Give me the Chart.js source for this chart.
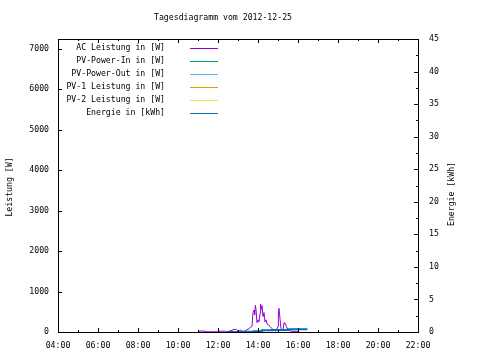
<!DOCTYPE html>
<html>
<head>
<meta charset="utf-8">
<script src="https://cdn.jsdelivr.net/npm/chart.js@4/dist/chart.umd.min.js"></script>
<style>
  body { margin: 0; background: #fff; }
  canvas { display: block; }
</style>
</head>
<body>
<canvas id="chart" width="480" height="360"></canvas>
<script>
// Chart data (time in hours of the day)
const titleText = 'Tagesdiagramm vom 2012-12-25';
const seriesLabels = ['AC Leistung in [W]', 'PV-Power-In in [W]', 'PV-Power-Out in [W]',
    'PV-1 Leistung in [W]', 'PV-2 Leistung in [W]', 'Energie in [kWh]'];
const seriesColors = ['#9400d3', '#009e73', '#56b4e9', '#e69f00', '#f0e442', '#0072b2'];

const acTimes = [11.00, 11.10, 11.20, 11.35, 11.45, 12.00, 12.10, 12.35, 12.45, 12.70, 12.80, 12.93,
    13.05, 13.13, 13.22, 13.35, 13.45, 13.55, 13.62, 13.70, 13.75, 13.80, 13.83, 13.87, 13.90, 13.95,
    14.00, 14.05, 14.10, 14.13, 14.17, 14.20, 14.25, 14.30, 14.35, 14.40, 14.45, 14.50, 14.60, 14.70,
    14.80, 14.90, 15.00, 15.02, 15.05, 15.10, 15.15, 15.25, 15.30, 15.35, 15.42, 15.48, 15.55, 15.70,
    15.90, 16.00, 16.02];
const acPower = [0, 20, 25, 20, 5, 5, 20, 20, 5, 40, 65, 60,
    15, 55, 15, 20, 60, 80, 120, 140, 480, 540, 420, 660, 560, 230,
    300, 250, 450, 690, 560, 650, 380, 480, 250, 300, 200, 180, 140, 80,
    40, 25, 140, 500, 585, 330, 80, 40, 230, 220, 140, 60, 40, 15,
    15, 10, 0];
const pvInPower = [];
const pvOutPower = [];
const pv1Power = [];
const pv2Power = [];

const energyTimes = [12.45, 13.30, 13.80, 14.20, 14.70, 15.50, 16.47];
const energy = [0.00, 0.05, 0.12, 0.26, 0.30, 0.41, 0.41];

// tick values
const hourTicks = [4, 6, 8, 10, 12, 14, 16, 18, 20, 22];
const powerTicks = [0, 1000, 2000, 3000, 4000, 5000, 6000, 7000];
const energyTicks = [0, 5, 10, 15, 20, 25, 30, 35, 40, 45];

const xMin = 4, xMax = 22;
const powerMax = 7240;
const energyMax = 45;

const FONT = '"DejaVu Sans Mono", monospace';
const FONT_SIZE = 8.2;

function toPoints(xs, ys) {
    return xs.map((x, i) => ({ x: x, y: ys[i] }));
}

function hourLabel(v) {
    return String(v).padStart(2, '0') + ':00';
}

// Draws frame, inward ticks, legend, title and axis titles the gnuplot way
const gnuplotDecor = {
    id: 'gnuplotDecor',
    afterDraw(chart) {
        const ctx = chart.ctx;
        const a = chart.chartArea;
        const xs = chart.scales.x, ys = chart.scales.y, y2 = chart.scales.y2;
        ctx.save();
        ctx.strokeStyle = '#000';
        ctx.lineWidth = 1;

        // inward ticks
        ctx.beginPath();
        for (let h = xMin; h <= xMax; h++) {
            const px = Math.round(xs.getPixelForValue(h)) + 0.5;
            const len = h % 2 === 0 ? 4 : 2;
            ctx.moveTo(px, a.bottom); ctx.lineTo(px, a.bottom - len);
            ctx.moveTo(px, a.top); ctx.lineTo(px, a.top + len);
        }
        powerTicks.forEach(v => {
            const py = Math.round(ys.getPixelForValue(v)) + 0.5;
            ctx.moveTo(a.left, py); ctx.lineTo(a.left + 4, py);
        });
        for (let v = 0; v <= energyMax; v += 2.5) {
            const py = Math.round(y2.getPixelForValue(v)) + 0.5;
            const len = v % 5 === 0 ? 4 : 2;
            ctx.moveTo(a.right, py); ctx.lineTo(a.right - len, py);
        }
        ctx.stroke();

        // frame
        ctx.strokeRect(Math.round(a.left) + 0.5, Math.round(a.top) + 0.5,
            Math.round(a.right - a.left), Math.round(a.bottom - a.top));

        ctx.fillStyle = '#000';
        ctx.font = FONT_SIZE + 'px ' + FONT;
        ctx.textBaseline = 'middle';

        // title
        ctx.textAlign = 'center';
        ctx.fillText(titleText, 223, 18);

        // axis titles
        ctx.save();
        ctx.translate(10, 187);
        ctx.rotate(-Math.PI / 2);
        ctx.fillText('Leistung [W]', 0, 0);
        ctx.restore();
        ctx.save();
        ctx.translate(452, 194);
        ctx.rotate(-Math.PI / 2);
        ctx.fillText('Energie [kWh]', 0, 0);
        ctx.restore();

        // legend
        chart.data.datasets.forEach((ds, i) => {
            const ly = 48 + i * 12.9;
            ctx.textAlign = 'right';
            ctx.fillStyle = '#000';
            ctx.fillText(ds.label, 165, ly);
            ctx.strokeStyle = ds.borderColor;
            ctx.beginPath();
            ctx.moveTo(190, Math.round(ly) + 0.5);
            ctx.lineTo(218, Math.round(ly) + 0.5);
            ctx.stroke();
        });
        ctx.restore();
    }
};

const powerSeries = [acPower, pvInPower, pvOutPower, pv1Power, pv2Power];
const datasets = powerSeries.map((vals, i) => ({
    label: seriesLabels[i],
    data: toPoints(acTimes.slice(0, vals.length), vals),
    borderColor: seriesColors[i],
    borderWidth: 1,
    pointRadius: 0,
    tension: 0,
    yAxisID: 'y',
    order: 1
}));
datasets.push({
    label: seriesLabels[5],
    data: toPoints(energyTimes, energy),
    borderColor: seriesColors[5],
    borderWidth: 2,
    pointRadius: 0,
    stepped: true,
    yAxisID: 'y2',
    order: 0
});

const tickFont = { family: FONT, size: FONT_SIZE };

new Chart(document.getElementById('chart'), {
    type: 'line',
    data: { datasets: datasets },
    options: {
        responsive: false,
        animation: false,
        devicePixelRatio: 1,
        layout: { padding: { top: 39, left: 0, right: 0, bottom: 0 } },
        plugins: {
            legend: { display: false },
            tooltip: { enabled: false },
            title: { display: false }
        },
        scales: {
            x: {
                type: 'linear',
                min: xMin,
                max: xMax,
                grid: { display: false, drawTicks: false },
                border: { display: false },
                afterBuildTicks: s => { s.ticks = hourTicks.map(v => ({ value: v })); },
                ticks: {
                    maxRotation: 0,
                    autoSkip: false,
                    padding: 9,
                    color: '#000',
                    font: tickFont,
                    callback: v => hourLabel(v)
                },
                afterFit: s => { s.height = 28; }
            },
            y: {
                position: 'left',
                min: 0,
                max: powerMax,
                grid: { display: false, drawTicks: false },
                border: { display: false },
                afterBuildTicks: s => { s.ticks = powerTicks.map(v => ({ value: v })); },
                ticks: {
                    autoSkip: false,
                    padding: 9,
                    color: '#000',
                    font: tickFont,
                    callback: v => String(v)
                },
                afterFit: s => { s.width = 58; }
            },
            y2: {
                position: 'right',
                min: 0,
                max: energyMax,
                grid: { display: false, drawTicks: false },
                border: { display: false },
                afterBuildTicks: s => { s.ticks = energyTicks.map(v => ({ value: v })); },
                ticks: {
                    autoSkip: false,
                    padding: 11,
                    color: '#000',
                    font: tickFont,
                    callback: v => String(v)
                },
                afterFit: s => { s.width = 62; }
            }
        }
    },
    plugins: [gnuplotDecor]
});
</script>
</body>
</html>
